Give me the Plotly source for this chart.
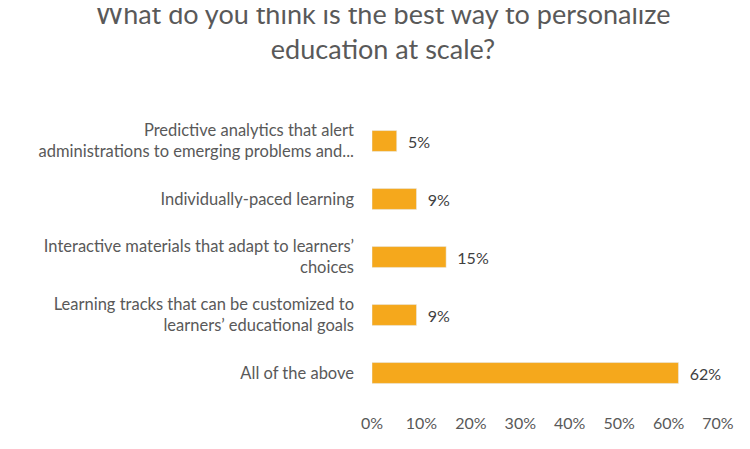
import plotly.graph_objects as go

categories = [
    "Predictive analytics that alert<br>administrations to emerging problems and...",
    "Individually-paced learning",
    "Interactive materials that adapt to learners’<br>choices",
    "Learning tracks that can be customized to<br>learners’ educational goals",
    "All of the above",
]
values = [5, 9, 15, 9, 62]
labels = ["  5%", "  9%", "  15%", "  9%", "  62%"]
tick_vals = [0, 10, 20, 30, 40, 50, 60, 70]
tick_text = ["0%", "10%", "20%", "30%", "40%", "50%", "60%", "70%"]

fig = go.Figure(go.Bar(
    x=values, y=categories, orientation="h",
    marker_color="#F5A81C", width=0.36,
    text=labels, textposition="outside", cliponaxis=False,
    textfont=dict(size=16, color="#404040"),
))
fig.update_layout(
    width=750, height=449,
    margin=dict(l=364, r=40, t=104, b=55),
    paper_bgcolor="white", plot_bgcolor="white",
    font=dict(family="Lato, Carlito, sans-serif", color="#595959", size=16),
    title=dict(text="What do you think is the best way to personalize<br>education at scale?",
               x=0.5, xanchor="center", y=0.965, yanchor="top",
               font=dict(size=27, color="#595959")),
    showlegend=False,
)
fig.update_xaxes(range=[0, 70], tickvals=tick_vals, ticktext=tick_text,
                 showgrid=False, zeroline=False, showline=False,
                 ticklabelstandoff=10,
                 tickfont=dict(size=16, color="#595959"))
fig.update_yaxes(autorange="reversed", showgrid=False, showline=False,
                 ticks="", ticklabelstandoff=17,
                 tickfont=dict(size=16.5, color="#595959"))
fig.write_html("out.html")
